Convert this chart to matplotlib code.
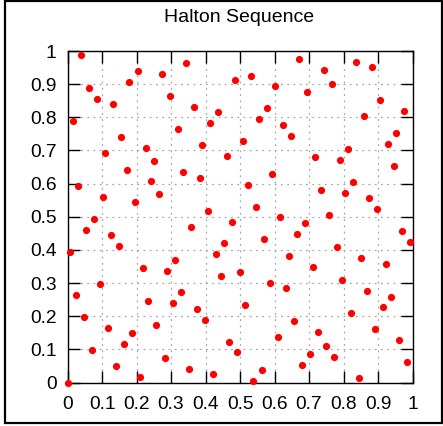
import matplotlib
matplotlib.use('Agg')
import matplotlib.pyplot as plt
from matplotlib.patches import Rectangle

plt.rcParams['font.family'] = ['Liberation Sans', 'DejaVu Sans']

title = 'Halton Sequence'

# Halton points (base 2 for x, base 3 for y), indices 0..127
x_vals = [
    0.0, 0.5, 0.25, 0.75, 0.125, 0.625, 0.375, 0.875,
    0.0625, 0.5625, 0.3125, 0.8125, 0.1875, 0.6875, 0.4375, 0.9375,
    0.0313, 0.5313, 0.2813, 0.7813, 0.1563, 0.6563, 0.4063, 0.9063,
    0.0938, 0.5938, 0.3438, 0.8438, 0.2188, 0.7188, 0.4688, 0.9688,
    0.0156, 0.5156, 0.2656, 0.7656, 0.1406, 0.6406, 0.3906, 0.8906,
    0.0781, 0.5781, 0.3281, 0.8281, 0.2031, 0.7031, 0.4531, 0.9531,
    0.0469, 0.5469, 0.2969, 0.7969, 0.1719, 0.6719, 0.4219, 0.9219,
    0.1094, 0.6094, 0.3594, 0.8594, 0.2344, 0.7344, 0.4844, 0.9844,
    0.0078, 0.5078, 0.2578, 0.7578, 0.1328, 0.6328, 0.3828, 0.8828,
    0.0703, 0.5703, 0.3203, 0.8203, 0.1953, 0.6953, 0.4453, 0.9453,
    0.0391, 0.5391, 0.2891, 0.7891, 0.1641, 0.6641, 0.4141, 0.9141,
    0.1016, 0.6016, 0.3516, 0.8516, 0.2266, 0.7266, 0.4766, 0.9766,
    0.0234, 0.5234, 0.2734, 0.7734, 0.1484, 0.6484, 0.3984, 0.8984,
    0.0859, 0.5859, 0.3359, 0.8359, 0.2109, 0.7109, 0.4609, 0.9609,
    0.0547, 0.5547, 0.3047, 0.8047, 0.1797, 0.6797, 0.4297, 0.9297,
    0.1172, 0.6172, 0.3672, 0.8672, 0.2422, 0.7422, 0.4922, 0.9922,
]
y_vals = [
    0.0, 0.3333, 0.6667, 0.1111, 0.4444, 0.7778, 0.2222, 0.5556,
    0.8889, 0.0370, 0.3704, 0.7037, 0.1481, 0.4815, 0.8148, 0.2593,
    0.5926, 0.9259, 0.0741, 0.4074, 0.7407, 0.1852, 0.5185, 0.8519,
    0.2963, 0.6296, 0.9630, 0.0123, 0.3457, 0.6790, 0.1235, 0.4568,
    0.7901, 0.2346, 0.5679, 0.9012, 0.0494, 0.3827, 0.7160, 0.1605,
    0.4938, 0.8272, 0.2716, 0.6049, 0.9383, 0.0864, 0.4198, 0.7531,
    0.1975, 0.5309, 0.8642, 0.3086, 0.6420, 0.9753, 0.0247, 0.3580,
    0.6914, 0.1358, 0.4691, 0.8025, 0.2469, 0.5802, 0.9136, 0.0617,
    0.3951, 0.7284, 0.1728, 0.5062, 0.8395, 0.2840, 0.6173, 0.9506,
    0.0988, 0.4321, 0.7654, 0.2099, 0.5432, 0.8765, 0.3210, 0.6543,
    0.9877, 0.0041, 0.3374, 0.6708, 0.1152, 0.4486, 0.7819, 0.2263,
    0.5597, 0.8930, 0.0412, 0.3745, 0.7078, 0.1523, 0.4856, 0.8189,
    0.2634, 0.5967, 0.9300, 0.0782, 0.4115, 0.7449, 0.1893, 0.5226,
    0.8560, 0.3004, 0.6337, 0.9671, 0.0165, 0.3498, 0.6831, 0.1276,
    0.4609, 0.7942, 0.2387, 0.5720, 0.9053, 0.0535, 0.3868, 0.7202,
    0.1646, 0.4979, 0.8313, 0.2757, 0.6091, 0.9424, 0.0905, 0.4239,
]
tick_vals = [0.0, 0.1, 0.2, 0.3, 0.4, 0.5, 0.6, 0.7, 0.8, 0.9, 1.0]
tick_labels = ['0', '0.1', '0.2', '0.3', '0.4', '0.5', '0.6', '0.7', '0.8', '0.9', '1']

W, H = 443, 426
fig = plt.figure(figsize=(W / 100, H / 100), dpi=100)
ax = fig.add_axes([67.5 / W, 43.5 / H, 345 / W, 331.5 / H])

ax.plot(x_vals, y_vals, 'o', color='#ff0000', markersize=5.2,
        markeredgewidth=0, clip_on=False, zorder=3)

ax.set_xlim(0, 1)
ax.set_ylim(0, 1)
ax.set_xticks(tick_vals)
ax.set_xticklabels(tick_labels)
ax.set_yticks(tick_vals)
ax.set_yticklabels(tick_labels)

ax.grid(True, color='#a8a8a8', linestyle=(0, (1.5, 3.5)), linewidth=0.9)
ax.set_axisbelow(True)
ax.tick_params(direction='in', length=8.6, width=1.0, top=True, right=True,
               labelsize=13.8, colors='black')
ax.tick_params(axis='x', pad=10)
ax.tick_params(axis='y', pad=8)
for s in ax.spines.values():
    s.set_linewidth(1.0)
    s.set_color('black')

fig.text(239.5 / W, 1 - 17 / H, title, ha='center', va='center', fontsize=14)

fig.add_artist(Rectangle((5 / W, 3.5 / H), 437 / W, 421.5 / H,
                         transform=fig.transFigure, fill=False,
                         edgecolor='black', linewidth=1.6))

fig.savefig('out.png', dpi=100)
